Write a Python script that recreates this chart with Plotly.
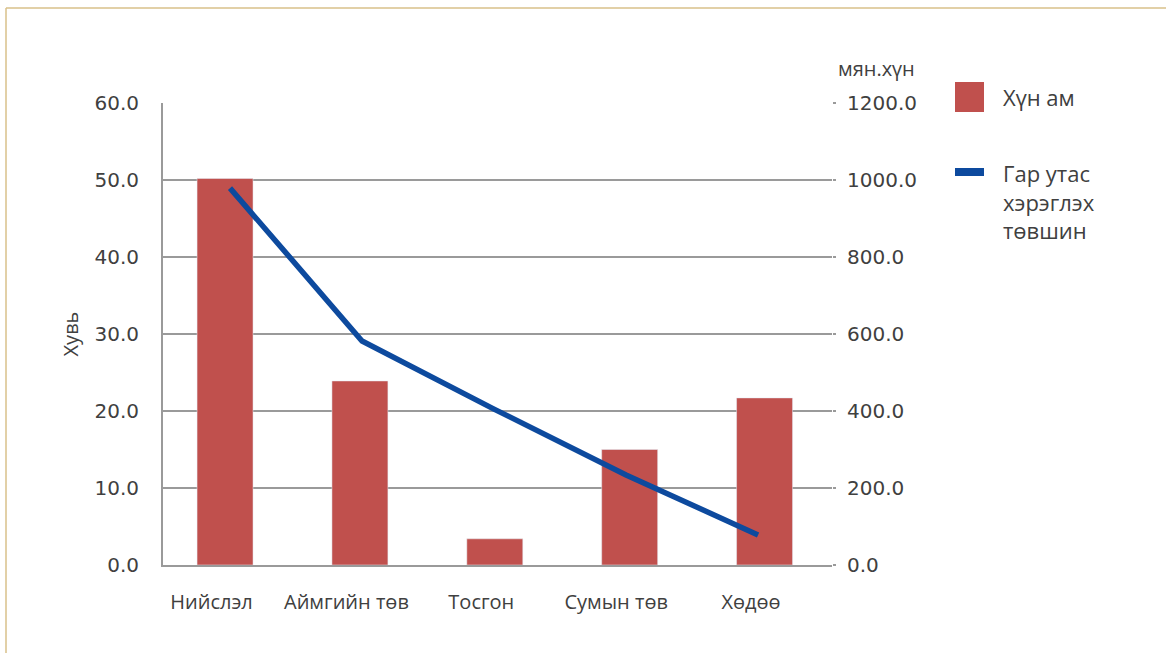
import plotly.graph_objects as go

categories = ["Нийслэл", "Аймгийн төв", "Тосгон", "Сумын төв", "Хөдөө"]
population_pct = [50.2, 23.9, 3.4, 15.0, 21.7]
mobile_thousand = [979, 582, 405, 234, 78]

left_ticks = [0, 10, 20, 30, 40, 50, 60]
right_ticks = [0, 200, 400, 600, 800, 1000, 1200]

W, H = 1166, 653
L, R, T, B = 163, 334, 103, 88
pw, ph = W - L - R, H - T - B

def px(x):
    return (x - L) / pw

def py(y):
    return (H - B - y) / ph

FONT = "Open Sans"
TICKFONT = "DejaVu Sans"
TXT = "#404040"
TICKTXT = "#404040"
GRID = "#9a9a9a"
RED = "#C0504D"
BLUE = "#0D4A9E"
LABEL_SHIFT = -0.1
WT = 400

fig = go.Figure()
fig.add_trace(go.Bar(x=categories, y=population_pct, marker_color=RED,
                     name="Хүн ам", width=0.415, showlegend=False))
fig.add_trace(go.Scatter(x=categories, y=mobile_thousand, xaxis="x2", yaxis="y2", mode="lines",
                         line=dict(color=BLUE, width=5.5), name="Гар утас хэрэглэх төвшин",
                         showlegend=False))

fig.update_layout(
    width=W, height=H,
    margin=dict(l=L, r=R, t=T, b=B),
    paper_bgcolor="white", plot_bgcolor="white",
    font=dict(family=FONT, size=20, color=TXT, weight=WT),
    xaxis=dict(range=[-0.46, 4.5], showgrid=False, showline=True, linecolor=GRID, linewidth=2,
               ticks="", tickfont=dict(size=20, family=FONT, weight=WT), ticklabelstandoff=18,
               tickmode="array", tickvals=[i + LABEL_SHIFT for i in range(len(categories))],
               ticktext=categories),
    xaxis2=dict(range=[-0.5076, 4.56], overlaying="x", visible=False,
                categoryorder="array", categoryarray=categories),
    yaxis=dict(range=[0, 60], tickvals=left_ticks, tickformat=".1f",
               tickfont=dict(family=TICKFONT, size=20, color=TICKTXT, weight=400),
               showgrid=True, gridcolor=GRID, gridwidth=1.5,
               showline=True, linecolor=GRID, linewidth=2,
               zeroline=False, ticks="", ticklabelstandoff=18,
               title=dict(text="Хувь", standoff=10, font=dict(size=20, weight=WT))),
    yaxis2=dict(range=[0, 1200], tickvals=right_ticks, tickformat=".1f",
                tickfont=dict(family=TICKFONT, size=20, color=TICKTXT, weight=400),
                overlaying="y", side="right", showgrid=False, zeroline=False,
                showline=False, ticks="outside", ticklen=3, tickcolor=GRID,
                tickwidth=1.5, ticklabelstandoff=7),
)

shapes = [
    dict(type="line", xref="paper", yref="paper", x0=px(6), x1=px(1170), y0=py(8), y1=py(8),
         line=dict(color="#D8C08A", width=1.5)),
    dict(type="line", xref="paper", yref="paper", x0=px(6), x1=px(6), y0=py(8), y1=py(660),
         line=dict(color="#D8C08A", width=1.5)),
    dict(type="rect", xref="paper", yref="paper", x0=px(955), x1=px(984), y0=py(82), y1=py(112),
         fillcolor=RED, line=dict(width=0)),
    dict(type="rect", xref="paper", yref="paper", x0=px(955), x1=px(984), y0=py(168), y1=py(176),
         fillcolor=BLUE, line=dict(width=0)),
]
annotations = [
    dict(xref="paper", yref="paper", x=px(836), y=py(68), text="мян.хүн", showarrow=False,
         xanchor="left", yanchor="middle", font=dict(size=20, color=TXT, weight=WT)),
    dict(xref="paper", yref="paper", x=px(1001), y=py(97), text="Хүн ам", showarrow=False,
         xanchor="left", yanchor="middle", font=dict(size=22, color=TXT, weight=WT)),
    dict(xref="paper", yref="paper", x=px(1001), y=py(201), text="Гар утас<br>хэрэглэх<br>төвшин",
         showarrow=False, xanchor="left", yanchor="middle", align="left",
         font=dict(size=22, color=TXT, weight=WT)),
]
fig.update_layout(shapes=shapes, annotations=annotations)

fig.write_html("out.html", config={"displayModeBar": False},
               post_script="document.body.style.margin='0';")
